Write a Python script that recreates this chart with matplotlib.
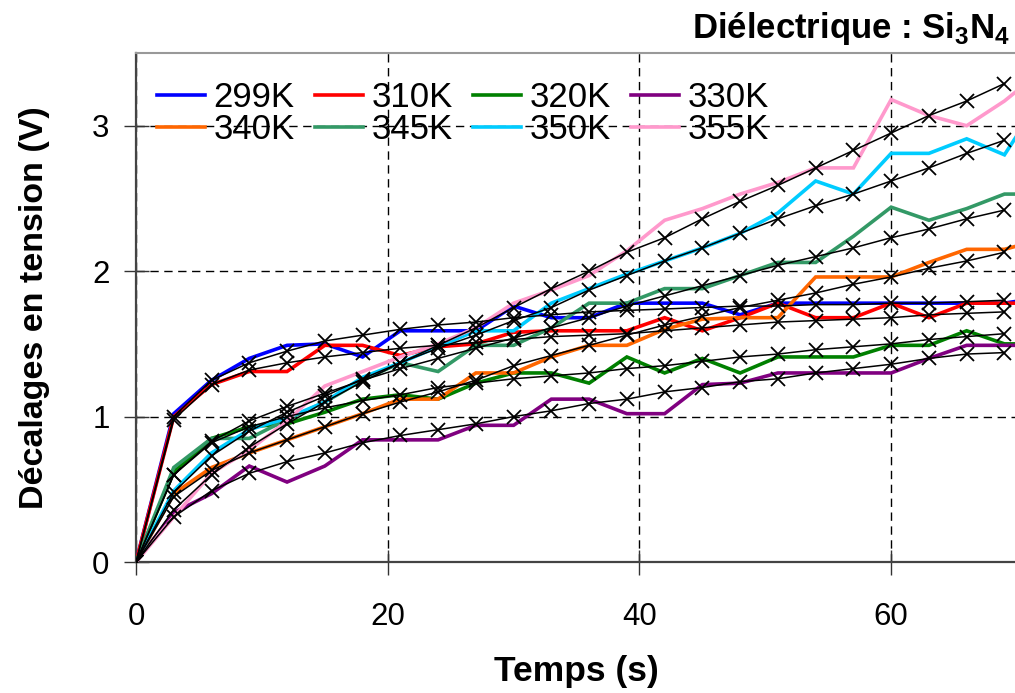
import matplotlib
matplotlib.use("Agg")
import matplotlib.pyplot as plt

plt.rcParams['font.family'] = ['Liberation Sans', 'DejaVu Sans']
plt.rcParams['mathtext.fontset'] = 'custom'
plt.rcParams['mathtext.bf'] = 'Liberation Sans:bold'
plt.rcParams['mathtext.rm'] = 'Liberation Sans'

# measured time steps (s) - last point lies past the right edge
t_meas = [0, 3, 6, 9, 12, 15, 18, 21, 24, 27, 30, 33, 36, 39, 42, 45, 48,
          51, 54, 57, 60, 63, 66, 69, 72]
# fitted curves time steps (s)
t_fit = [0, 3, 6, 9, 12, 15, 18, 21, 24, 27, 30, 33, 36, 39, 42, 45, 48,
         51, 54, 57, 60, 63, 66, 69]

labels = ['299K', '310K', '320K', '330K', '340K', '345K', '350K', '355K']

v299 = [0, 1.02, 1.25, 1.40, 1.49, 1.50, 1.41, 1.59, 1.59, 1.59, 1.76, 1.68, 1.68,
        1.78, 1.78, 1.78, 1.70, 1.78, 1.78, 1.78, 1.78, 1.78, 1.78, 1.78, 1.82]
v310 = [0, 1.00, 1.22, 1.31, 1.31, 1.49, 1.49, 1.42, 1.48, 1.50, 1.58, 1.59, 1.59,
        1.59, 1.68, 1.59, 1.68, 1.78, 1.68, 1.68, 1.78, 1.68, 1.78, 1.78, 1.78]
v320 = [0, 0.62, 0.85, 0.93, 0.95, 1.03, 1.12, 1.15, 1.12, 1.23, 1.30, 1.30, 1.23,
        1.41, 1.30, 1.40, 1.30, 1.41, 1.41, 1.41, 1.49, 1.49, 1.59, 1.50, 1.50]
v330 = [0, 0.34, 0.47, 0.66, 0.55, 0.66, 0.84, 0.84, 0.84, 0.94, 0.94, 1.12, 1.12,
        1.02, 1.02, 1.22, 1.23, 1.30, 1.30, 1.30, 1.30, 1.40, 1.49, 1.49, 1.49]
v340 = [0, 0.47, 0.65, 0.75, 0.84, 0.93, 1.02, 1.12, 1.12, 1.30, 1.30, 1.41, 1.49,
        1.49, 1.60, 1.67, 1.68, 1.68, 1.96, 1.96, 1.96, 2.06, 2.15, 2.15, 2.22]
v345 = [0, 0.65, 0.85, 0.85, 0.98, 1.10, 1.25, 1.37, 1.31, 1.49, 1.49, 1.61, 1.78,
        1.78, 1.88, 1.88, 1.97, 2.06, 2.06, 2.24, 2.44, 2.35, 2.43, 2.53, 2.53]
v350 = [0, 0.49, 0.75, 0.91, 0.99, 1.10, 1.27, 1.37, 1.48, 1.59, 1.59, 1.78, 1.88,
        1.98, 2.07, 2.16, 2.26, 2.40, 2.62, 2.53, 2.81, 2.81, 2.91, 2.80, 3.20]
v355 = [0, 0.31, 0.61, 0.77, 0.97, 1.21, 1.31, 1.41, 1.50, 1.61, 1.78, 1.87, 1.97,
        2.14, 2.35, 2.43, 2.53, 2.61, 2.71, 2.71, 3.18, 3.07, 3.00, 3.17, 3.38]

f299 = [0, 1.00, 1.25, 1.37, 1.45, 1.52, 1.56, 1.60, 1.63, 1.65, 1.68, 1.70,
        1.72, 1.73, 1.74, 1.75, 1.76, 1.76, 1.77, 1.77, 1.78, 1.78, 1.79, 1.80]
f310 = [0, 0.98, 1.22, 1.32, 1.37, 1.41, 1.44, 1.47, 1.49, 1.51, 1.53, 1.55,
        1.56, 1.57, 1.59, 1.61, 1.63, 1.65, 1.66, 1.67, 1.68, 1.70, 1.71, 1.72]
f320 = [0, 0.60, 0.82, 0.93, 1.00, 1.06, 1.11, 1.15, 1.20, 1.23, 1.26, 1.28,
        1.30, 1.33, 1.35, 1.38, 1.41, 1.43, 1.46, 1.48, 1.50, 1.53, 1.55, 1.57]
f330 = [0, 0.31, 0.49, 0.61, 0.69, 0.75, 0.82, 0.87, 0.91, 0.95, 1.00, 1.04,
        1.09, 1.12, 1.17, 1.20, 1.24, 1.26, 1.30, 1.33, 1.36, 1.40, 1.43, 1.44]
f340 = [0, 0.45, 0.63, 0.75, 0.84, 0.93, 1.02, 1.10, 1.17, 1.25, 1.35, 1.42,
        1.49, 1.56, 1.63, 1.69, 1.75, 1.80, 1.85, 1.91, 1.96, 2.02, 2.07, 2.13]
f345 = [0, 0.60, 0.83, 0.97, 1.07, 1.16, 1.25, 1.33, 1.40, 1.47, 1.54, 1.61,
        1.68, 1.76, 1.83, 1.90, 1.97, 2.04, 2.10, 2.16, 2.23, 2.29, 2.36, 2.42]
f350 = [0, 0.48, 0.73, 0.90, 1.03, 1.14, 1.26, 1.37, 1.47, 1.56, 1.66, 1.75,
        1.87, 1.97, 2.07, 2.16, 2.26, 2.36, 2.45, 2.53, 2.62, 2.71, 2.81, 2.90]
f355 = [0, 0.36, 0.60, 0.79, 0.95, 1.10, 1.24, 1.37, 1.49, 1.61, 1.75, 1.88,
        2.00, 2.13, 2.23, 2.36, 2.48, 2.59, 2.71, 2.83, 2.95, 3.07, 3.17, 3.29]

measured = [v299, v310, v320, v330, v340, v345, v350, v355]
fits = [f299, f310, f320, f330, f340, f345, f350, f355]
colors = ['#0000ff', '#ff0000', '#008000', '#800080',
          '#ff6600', '#339966', '#00ccff', '#ff99cc']

fig = plt.figure(figsize=(10.15, 6.93), dpi=100)
ax = fig.add_axes([0.134, 0.189, 0.868, 0.7345])

handles = []
for vals, col, lab in zip(measured, colors, labels):
    h, = ax.plot(t_meas, vals, color=col, lw=2.6, label=lab, zorder=3,
                 solid_joinstyle='miter')
    handles.append(h)
for vals in fits:
    ax.plot(t_fit, vals, color='black', lw=1.1, marker='x', ms=10, mew=1.3,
            zorder=4)

ax.set_xlim(0, 70)
ax.set_ylim(0, 3.5)
ax.set_xticks([0, 20, 40, 60])
ax.set_yticks([0, 1, 2, 3])
ax.grid(True, color='black', ls=(0, (6, 4)), lw=1)
ax.set_axisbelow(True)
ax.tick_params(direction='inout', length=18, width=1, labelsize=22.5,
               color='#333333')
ax.tick_params(axis='x', pad=20)
ax.tick_params(axis='y', pad=10)

for s in ['left', 'bottom']:
    ax.spines[s].set_color('#444444')
    ax.spines[s].set_linewidth(1.6)
ax.spines['top'].set_color('#999999')
ax.spines['top'].set_linewidth(1.5)
ax.spines['right'].set_visible(False)

ax.set_xlabel('Temps (s)', fontsize=25.5, fontweight='bold', labelpad=16)
ax.set_ylabel('Décalages en tension (V)', fontsize=24.5, fontweight='bold',
              labelpad=30)

# legend filled row by row (matplotlib fills column-wise)
order = [0, 4, 1, 5, 2, 6, 3, 7]
ax.legend([handles[i] for i in order], [labels[i] for i in order], ncol=4,
          loc='upper left', bbox_to_anchor=(0.0, 0.985), frameon=False,
          fontsize=25, handlelength=1.4, handletextpad=0.23,
          columnspacing=0.58, labelspacing=-0.04, borderaxespad=0.3,
          borderpad=0.3)

fig.text(0.995, 0.945, r'Diélectrique : Si$_\mathbf{3}$N$_\mathbf{4}$',
         ha='right', va='baseline', fontsize=25, fontweight='bold')

fig.savefig('out.png', dpi=100)
